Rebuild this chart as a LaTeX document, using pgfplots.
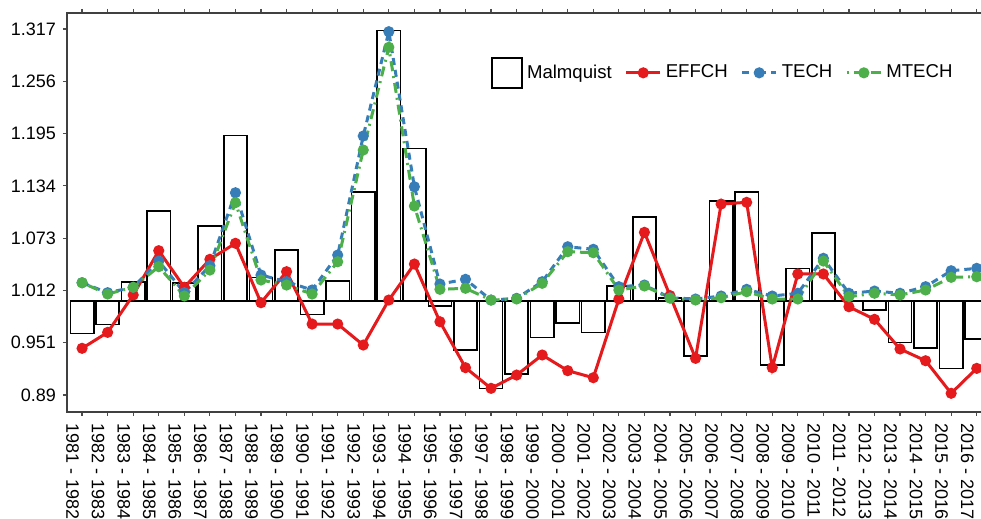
\documentclass[border=0pt]{standalone}
\usepackage{fontspec}
\setmainfont{Liberation Sans}
\usepackage{pgfplots}
\usepackage{pgfplotstable}
\pgfplotsset{compat=1.18}
\usetikzlibrary{calc}

\definecolor{effred}{HTML}{E41A1C}
\definecolor{techblue}{HTML}{377EB8}
\definecolor{mtechgreen}{HTML}{4DAF4A}

% x = period index (0 = 1981-1982)
\pgfplotstableread{
x  malm    effch   tech    mtech
0  0.9620  0.9445  1.0210  1.0210
1  0.9725  0.9631  1.0094  1.0078
2  1.0222  1.0067  1.0157  1.0157
3  1.1047  1.0584  1.0463  1.0397
4  1.0210  1.0157  1.0094  1.0055
5  1.0872  1.0483  1.0409  1.0358
6  1.1926  1.0670  1.1260  1.1144
7  1.0273  0.9977  1.0300  1.0242
8  1.0592  1.0339  1.0222  1.0183
9  0.9841  0.9728  1.0125  1.0078
10 1.0233  0.9728  1.0533  1.0455
11 1.1272  0.9483  1.1922  1.1758
12 1.3151  1.0008  1.3139  1.2957
13 1.1778  1.0428  1.1330  1.1105
14 0.9938  0.9755  1.0195  1.0133
15 0.9425  0.9219  1.0250  1.0145
16 0.8978  0.8978  1.0008  1.0008
17 0.9145  0.9133  1.0028  1.0020
18 0.9569  0.9367  1.0222  1.0203
19 0.9737  0.9184  1.0630  1.0572
20 0.9631  0.9102  1.0600  1.0560
21 1.0172  1.0020  1.0164  1.0125
22 1.0980  1.0798  1.0183  1.0172
23 1.0035  1.0060  1.0035  1.0030
24 0.9355  0.9328  1.0020  1.0008
25 1.1163  1.1128  1.0055  1.0035
26 1.1272  1.1148  1.0133  1.0105
27 0.9250  0.9219  1.0055  1.0020
28 1.0378  1.0312  1.0087  1.0020
29 1.0787  1.0312  1.0495  1.0463
30 0.9989  0.9930  1.0087  1.0047
31 0.9892  0.9783  1.0113  1.0087
32 0.9515  0.9437  1.0087  1.0067
33 0.9452  0.9300  1.0164  1.0125
34 0.9211  0.8920  1.0350  1.0273
35 0.9553  0.9211  1.0378  1.0280
}\datatable

\begin{document}
\begin{tikzpicture}
\begin{axis}[
    scale only axis,
    width=462.4pt, height=199.5pt,
    xmin=-0.59, xmax=35.59,
    ymin=0.8702, ymax=1.3357,
    % shift so that bars grow from 1
    y coord trafo/.code={\pgfmathparse{#1-1}},
    y coord inv trafo/.code={\pgfmathparse{#1+1}},
    ytick={0.89,0.951,1.012,1.073,1.134,1.195,1.256,1.317},
    yticklabels={0.89,0.951,1.012,1.073,1.134,1.195,1.256,1.317},
    xtick={0,...,35},
    xticklabels={1981 - 1982,1982 - 1983,1983 - 1984,1984 - 1985,1985 - 1986,1986 - 1987,1987 - 1988,1988 - 1989,1989 - 1990,1990 - 1991,1991 - 1992,1992 - 1993,1993 - 1994,1994 - 1995,1995 - 1996,1996 - 1997,1997 - 1998,1998 - 1999,1999 - 2000,2000 - 2001,2001 - 2002,2002 - 2003,2003 - 2004,2004 - 2005,2005 - 2006,2006 - 2007,2007 - 2008,2008 - 2009,2009 - 2010,2010 - 2011,2011 - 2012,2012 - 2013,2013 - 2014,2014 - 2015,2015 - 2016,2016 - 2017},
    xticklabel style={xshift=-4.75pt, rotate=-90, anchor=west, font=\fontsize{9}{10}\selectfont},
    yticklabel style={font=\fontsize{9}{10}\selectfont},
    tick align=outside,
    major tick length=2pt,
    tick style={black!70, line width=0.6pt},
    axis line style={black!75, line width=0.6pt},
    legend columns=-1,
    legend style={draw=none, fill=none, at={(0.452,0.85)}, anchor=west,
        font=\fontsize{9.3}{11}\selectfont,
        /tikz/every even column/.append style={column sep=4.5pt}},
    legend image code/.code={
        \draw[#1] (0pt,0pt) -- (8.5pt,0pt) (8.5pt,0pt) -- (17pt,0pt);
        \draw[#1, solid] plot coordinates {(8.5pt,0pt)};},
]
\addplot[ybar, bar width=0.91, draw=black, fill=white, line width=0.8pt,
    legend image code/.code={\draw[black, line width=0.8pt, fill=white] (0pt,-7.5pt) rectangle (15pt,7.5pt);}]
    table[x=x, y=malm] {\datatable};
\addlegendentry{Malmquist}
\addplot[black, line width=0.8pt, forget plot] coordinates {(-0.455,1) (35.59,1)};
\addplot[effred, line width=1.5pt, mark=*, mark size=2pt]
    table[x=x, y=effch] {\datatable};
\addlegendentry{EFFCH}
\addplot[techblue, line width=1.5pt, dash pattern=on 3.5pt off 2.5pt,
    mark=*, mark size=2pt, mark options={solid}]
    table[x=x, y=tech] {\datatable};
\addlegendentry{TECH}
\addplot[mtechgreen, line width=1.5pt, dash pattern=on 1pt off 2.5pt on 5pt off 2.5pt,
    mark=*, mark size=2pt, mark options={solid}]
    table[x=x, y=mtech] {\datatable};
\addlegendentry{MTECH}
\coordinate (bl) at (rel axis cs:0,0);
\end{axis}
\pgfresetboundingbox
\useasboundingbox ($(bl)+(-33.5pt,-53.5pt)$) rectangle ($(bl)+(457pt,206pt)$);
\end{tikzpicture}
\end{document}
